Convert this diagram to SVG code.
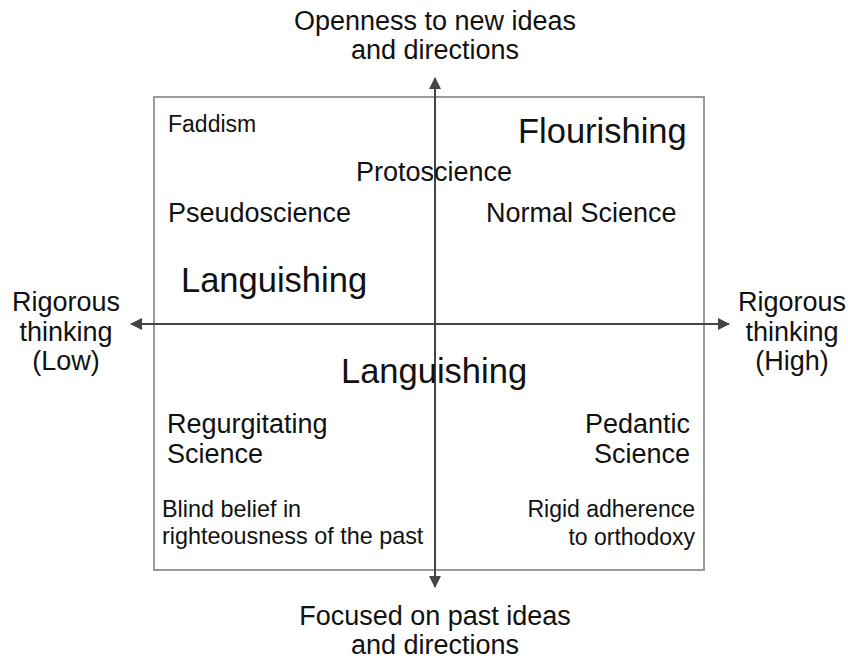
<svg xmlns="http://www.w3.org/2000/svg" width="848" height="664" viewBox="0 0 848 664">
  <defs>
    <style>
      text { font-family: "Liberation Sans", Arial, sans-serif; fill: #111; }
      .axis-label { font-size: 27px; text-anchor: middle; }
      .big { font-size: 34.5px; }
      .mid { font-size: 27px; }
      .small { font-size: 23px; }
      .end { text-anchor: end; }
      .frame { fill: none; stroke: #9a9a9a; stroke-width: 2; }
      .axis { stroke: #444; stroke-width: 2; fill: none; marker-end: url(#arrow); }
    </style>
    <marker id="arrow" viewBox="0 0 12 12" refX="11" refY="6" markerWidth="12" markerHeight="12" markerUnits="userSpaceOnUse" orient="auto">
      <path d="M0,0 L12,6 L0,12 Z" fill="#444"/>
    </marker>
  </defs>

  <rect width="848" height="664" fill="#fff"/>

  <!-- quadrant frame -->
  <rect id="frame" class="frame" x="154" y="97" width="550" height="473"/>

  <!-- axes -->
  <g id="connectors">
    <line class="axis" x1="435" y1="324" x2="435" y2="78"/>
    <line class="axis" x1="435" y1="324" x2="435" y2="587"/>
    <line class="axis" x1="435" y1="324" x2="131" y2="324"/>
    <line class="axis" x1="435" y1="324" x2="729" y2="324"/>
  </g>

  <!-- axis labels -->
  <g id="label-top">
    <text class="axis-label" x="435" y="30">Openness to new ideas</text>
    <text class="axis-label" x="435" y="59">and directions</text>
  </g>
  <g id="label-bottom">
    <text class="axis-label" x="435" y="625">Focused on past ideas</text>
    <text class="axis-label" x="435" y="654">and directions</text>
  </g>
  <g id="label-left">
    <text class="axis-label" x="66" y="311">Rigorous</text>
    <text class="axis-label" x="66" y="341">thinking</text>
    <text class="axis-label" x="66" y="370">(Low)</text>
  </g>
  <g id="label-right">
    <text class="axis-label" x="792" y="311">Rigorous</text>
    <text class="axis-label" x="792" y="341">thinking</text>
    <text class="axis-label" x="792" y="370">(High)</text>
  </g>

  <!-- upper quadrants -->
  <g id="faddism"><text class="small" x="168" y="132">Faddism</text></g>
  <g id="flourishing"><text class="big" x="518" y="143">Flourishing</text></g>
  <g id="protoscience"><text class="mid" x="356" y="181">Protoscience</text></g>
  <g id="pseudoscience"><text class="mid" x="168" y="222">Pseudoscience</text></g>
  <g id="normal-science"><text class="mid" x="486" y="222">Normal Science</text></g>
  <g id="languishing-upper"><text class="big" x="181" y="292">Languishing</text></g>

  <!-- lower quadrants -->
  <g id="languishing-lower"><text class="big" x="341" y="383">Languishing</text></g>
  <g id="regurgitating">
    <text class="mid" x="167" y="433">Regurgitating</text>
    <text class="mid" x="167" y="463">Science</text>
  </g>
  <g id="blind-belief">
    <text class="small" x="162" y="517" style="font-size:23.4px">Blind belief in</text>
    <text class="small" x="162" y="544" style="font-size:23.4px">righteousness of the past</text>
  </g>
  <g id="pedantic">
    <text class="mid end" x="690" y="433">Pedantic</text>
    <text class="mid end" x="690" y="463">Science</text>
  </g>
  <g id="rigid-adherence">
    <text class="small end" x="695" y="517">Rigid adherence</text>
    <text class="small end" x="695" y="545">to orthodoxy</text>
  </g>
</svg>
